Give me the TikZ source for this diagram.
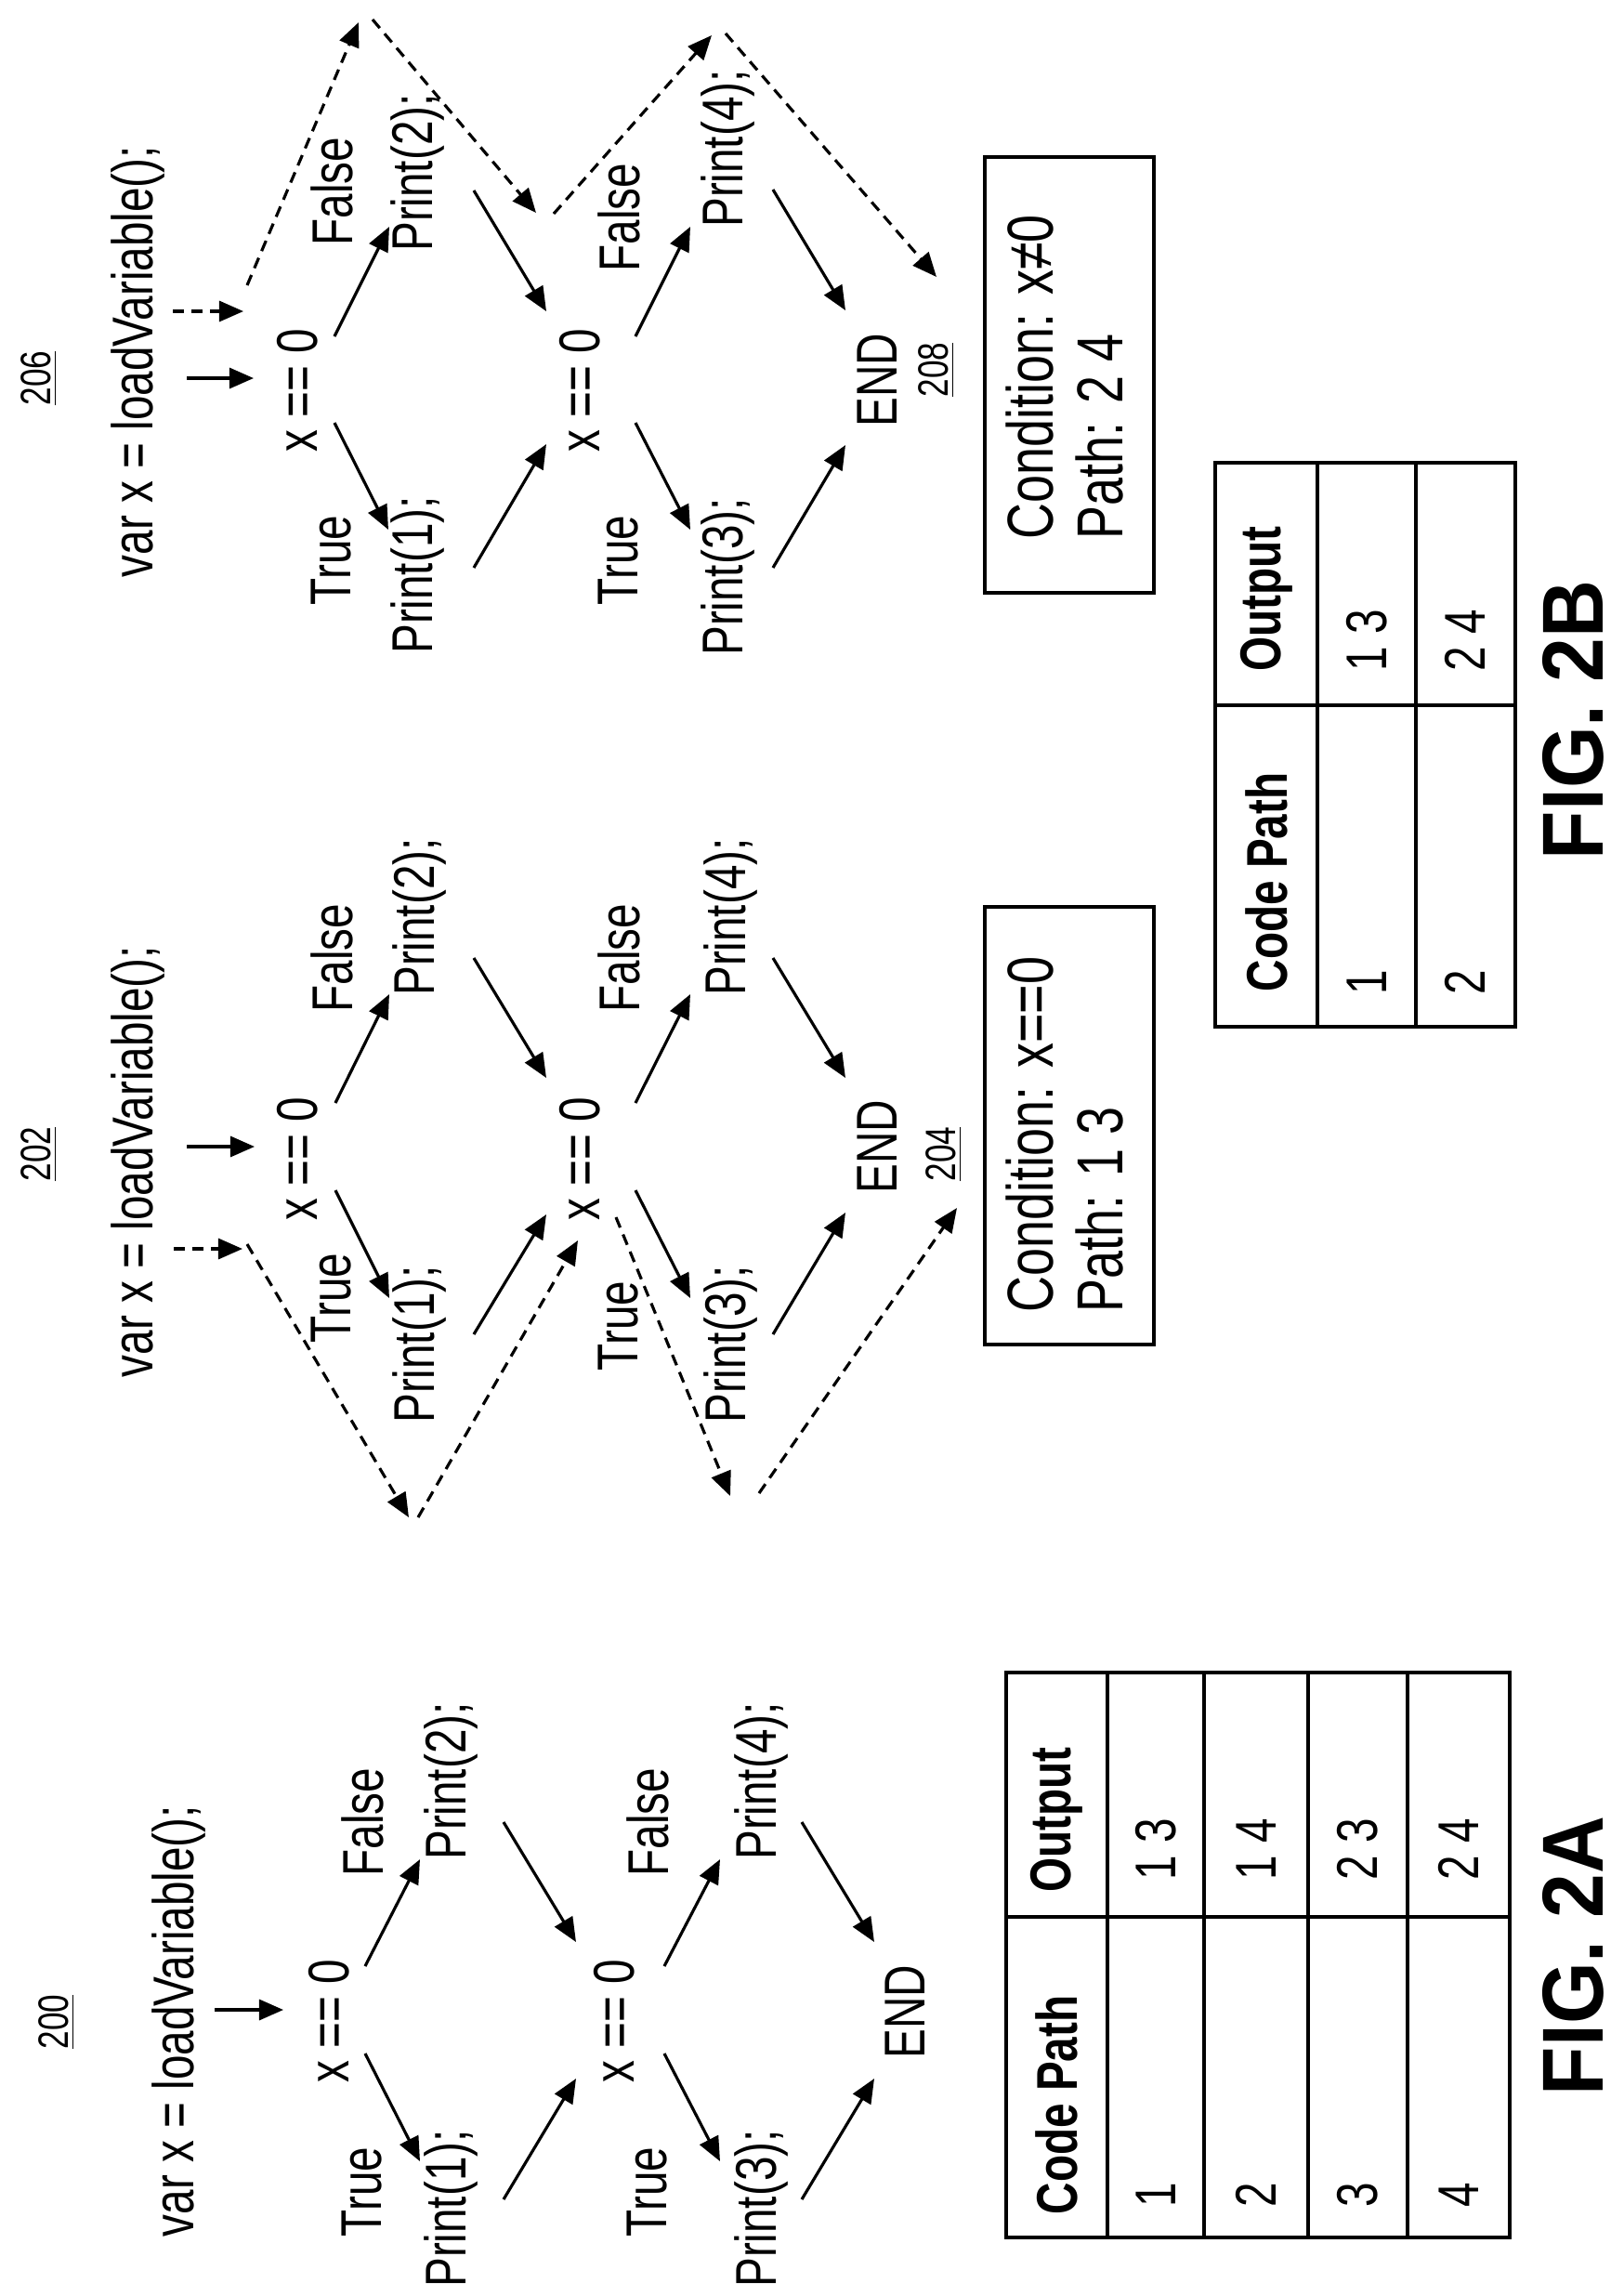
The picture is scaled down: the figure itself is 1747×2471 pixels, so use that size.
\documentclass[tikz,border=0pt]{standalone}
\usepackage{fontspec}
\setmainfont{Liberation Sans}
\newfontfamily\nar{Liberation Sans}[FakeStretch=0.77]
\newfontfamily\figf{Liberation Sans}[FakeStretch=0.92]
\usetikzlibrary{arrows.meta}
\begin{document}
\begin{tikzpicture}[x=0.01cm,y=-0.01cm,
  txt/.style={rotate=90,inner sep=0pt,font=\nar\fontsize{17.6}{20}\selectfont},
  cond/.style={rotate=90,inner sep=0pt,anchor=west,font=\nar\fontsize{19.9}{22}\selectfont},
  lab/.style={rotate=90,inner sep=0pt,font=\nar\fontsize{13}{15}\selectfont},
  tab/.style={rotate=90,inner sep=0pt,anchor=west,font=\nar\fontsize{17.6}{20}\selectfont},
  tabh/.style={tab,font=\nar\bfseries\fontsize{17.6}{20}\selectfont},
  fig/.style={rotate=90,inner sep=0pt,font=\figf\bfseries\fontsize{26.5}{30}\selectfont},
  arr/.style={line width=0.9pt,-{Triangle[length=0.26cm,width=0.22cm]}},
  darr/.style={arr,dash pattern=on 0.12cm off 0.08cm},
  grid/.style={line width=1.1pt}]
\useasboundingbox (0,0) rectangle (1747,2471);

% ================= FIG 2B right part (206) =================
\node[lab] (n206) at (42,407) {\underline{206}};
\node[txt] (v3) at (148,389) {var x = loadVariable();};
\coordinate (s3a) at (201,407); \coordinate (s3b) at (273,407);
\draw[arr] (s3a) -- (s3b);
\coordinate (d3a) at (186,335); \coordinate (d3b) at (262,335);
\draw[darr] (d3a) -- (d3b);
\node[txt] (c31) at (320,420) {x == 0};
\node[txt] (t31) at (357,603) {True};
\node[txt] (f31) at (357,206) {False};
\node[txt] (p31) at (449,619) {Print(1);};
\node[txt] (p32) at (449,186) {Print(2);};
\node[txt] (c32) at (624,420) {x == 0};
\node[txt] (t32) at (666,603) {True};
\node[txt] (f32) at (666,234) {False};
\node[txt] (p33) at (783,621) {Print(3);};
\node[txt] (p34) at (783,160) {Print(4);};
\node[txt] (e3) at (944,409) {END};
\node[lab] (n208) at (1008,398) {\underline{208}};
\draw[grid] (1060,169) rectangle (1242,638);
\node[cond] (k3a) at (1108,581) {Condition: x≠0};
\node[cond] (k3b) at (1183,581) {Path: 2 4};
\draw[arr] (360,455) -- (418,570);
\draw[arr] (360,362) -- (419,244);
\draw[arr] (510,611) -- (588,478);
\draw[arr] (510,205) -- (588,335);
\draw[arr] (684,455) -- (743,570);
\draw[arr] (684,362) -- (743,244);
\draw[arr] (832,204) -- (910,334);
\draw[arr] (832,611) -- (910,479);
\draw[darr] (266,307) -- (386,24);
\draw[darr] (401,21) -- (577,229);
\draw[darr] (596,230) -- (766,38);
\draw[darr] (781,36) -- (1008,298);

% ================= FIG 2B left part (202) =================
\node[lab] (n202) at (42,1242) {\underline{202}};
\node[txt] (v2) at (148,1250) {var x = loadVariable();};
\draw[arr] (201,1234) -- (274,1234);
\draw[darr] (187,1344) -- (261,1344);
\node[txt] (c21) at (320,1247) {x == 0};
\node[txt] (t21) at (357,1397) {True};
\node[txt] (f21) at (357,1031) {False};
\node[txt] (p21) at (451,1447) {Print(1);};
\node[txt] (p22) at (451,987) {Print(2);};
\node[txt] (c22) at (624,1247) {x == 0};
\node[txt] (t22) at (666,1427) {True};
\node[txt] (f22) at (666,1031) {False};
\node[txt] (p23) at (786,1447) {Print(3);};
\node[txt] (p24) at (786,987) {Print(4);};
\node[txt] (e2) at (944,1234) {END};
\node[lab] (n204) at (1016,1242) {\underline{204}};
\draw[grid] (1060,976) rectangle (1242,1447);
\node[cond] (k2a) at (1108,1413) {Condition: x==0};
\node[cond] (k2b) at (1183,1413) {Path: 1 3};
\draw[arr] (361,1281) -- (419,1397);
\draw[arr] (361,1187) -- (419,1070);
\draw[arr] (510,1436) -- (588,1307);
\draw[arr] (510,1031) -- (588,1160);
\draw[arr] (684,1281) -- (743,1397);
\draw[arr] (684,1187) -- (743,1070);
\draw[arr] (832,1031) -- (910,1160);
\draw[arr] (832,1436) -- (910,1305);
\draw[darr] (266,1339) -- (440,1633);
\draw[darr] (450,1633) -- (622,1335);
\draw[darr] (663,1310) -- (786,1610);
\draw[darr] (817,1607) -- (1030,1300);

% table 2B
\draw[grid] (1308,498) rectangle (1631,1105);
\draw[grid] (1418,498) -- (1418,1105) (1524,498) -- (1524,1105) (1308,759) -- (1631,759);
\node[tabh] (h2a) at (1363,1068) {Code Path};
\node[tabh] (h2b) at (1363,723) {Output};
\node[tab] (r21a) at (1471,1071) {1};
\node[tab] (r21b) at (1471,723) {1 3};
\node[tab] (r22a) at (1577,1071) {2};
\node[tab] (r22b) at (1577,723) {2 4};
\node[fig] (fig2b) at (1693,775) {FIG. 2B};

% ================= FIG 2A (200) =================
\node[lab] (n200) at (61,2176) {\underline{200}};
\node[txt] (v1) at (192,2175) {var x = loadVariable();};
\draw[arr] (231,2163) -- (305,2163);
\node[txt] (c11) at (354,2175) {x == 0};
\node[txt] (t11) at (390,2359) {True};
\node[txt] (f11) at (390,1961) {False};
\node[txt] (p11) at (485,2377) {Print(1);};
\node[txt] (p12) at (485,1917) {Print(2);};
\node[txt] (c12) at (661,2175) {x == 0};
\node[txt] (t12) at (697,2359) {True};
\node[txt] (f12) at (697,1961) {False};
\node[txt] (p13) at (819,2377) {Print(3);};
\node[txt] (p14) at (819,1917) {Print(4);};
\node[txt] (e1) at (974,2165) {END};
\draw[arr] (393,2210) -- (452,2326);
\draw[arr] (393,2116) -- (452,2001);
\draw[arr] (542,2367) -- (620,2237);
\draw[arr] (542,1961) -- (620,2090);
\draw[arr] (715,2210) -- (775,2326);
\draw[arr] (715,2116) -- (775,2001);
\draw[arr] (863,1961) -- (941,2090);
\draw[arr] (863,2367) -- (941,2237);

% table 2A
\draw[grid] (1083,1800) rectangle (1625,2408);
\draw[grid] (1192,1800) -- (1192,2408) (1296,1800) -- (1296,2408)
  (1408,1800) -- (1408,2408) (1515,1800) -- (1515,2408) (1083,2063) -- (1625,2063);
\node[tabh] (h1a) at (1137,2384) {Code Path};
\node[tabh] (h1b) at (1137,2037) {Output};
\node[tab] (r11a) at (1244,2376) {1};
\node[tab] (r11b) at (1244,2024) {1 3};
\node[tab] (r12a) at (1352,2376) {2};
\node[tab] (r12b) at (1352,2024) {1 4};
\node[tab] (r13a) at (1461,2376) {3};
\node[tab] (r13b) at (1461,2024) {2 3};
\node[tab] (r14a) at (1570,2376) {4};
\node[tab] (r14b) at (1570,2024) {2 4};
\node[fig] (fig2a) at (1693,2105) {FIG. 2A};
\end{tikzpicture}
\end{document}
